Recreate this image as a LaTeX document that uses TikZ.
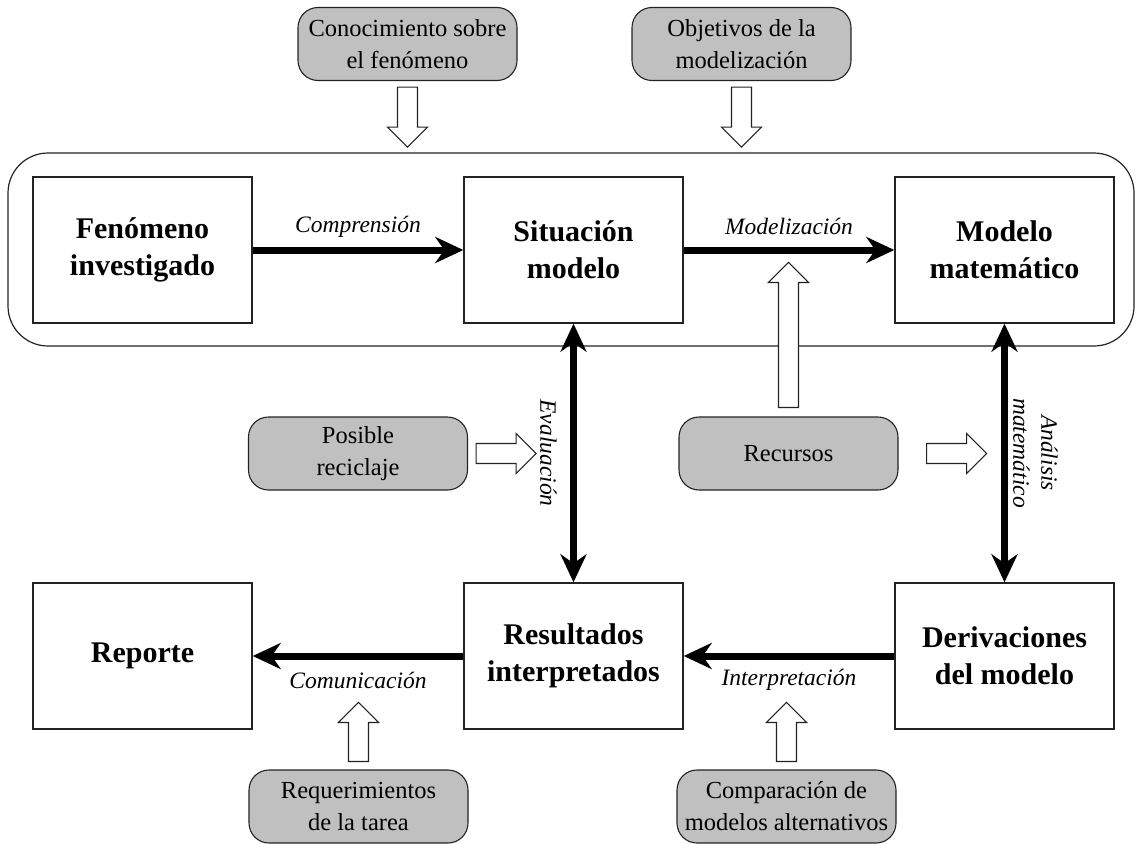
\documentclass[tikz,border=0pt]{standalone}
\usepackage{fontspec}
\setmainfont{Liberation Serif}
\usetikzlibrary{arrows.meta,calc}
\definecolor{boxgray}{RGB}{192,192,192}
\definecolor{edge}{RGB}{35,35,35}
\begin{document}
\begin{tikzpicture}[x=1pt,y=-1pt,
  stage/.style={draw=edge, line width=1.4pt, fill=white, minimum width=219pt, minimum height=146pt,
    inner sep=0pt, align=center, font=\fontsize{30}{37}\selectfont\bfseries},
  factor/.style={draw=edge, line width=1.1pt, fill=boxgray, rounded corners=20pt,
    minimum width=219pt, minimum height=73pt, inner sep=0pt, align=center,
    font=\fontsize{24.5}{32}\selectfont},
  tipshape/.style={Stealth[length=28pt,width=26pt,inset=9pt]},
  flow/.style={line width=7pt, -{Stealth[length=28pt,width=26pt,inset=9pt]}},
  bothflow/.style={line width=7pt, {Stealth[length=28pt,width=26pt,inset=9pt]}-{Stealth[length=28pt,width=26pt,inset=9pt]}},
  phase/.style={font=\fontsize{23.5}{28}\selectfont\itshape, inner sep=0pt, align=center},
  hollow/.style={draw=edge, line width=1.1pt, fill=white, line join=miter},
  pics/block/.style={code={
    \draw[hollow] (0,-10) -- ({#1-20},-10) -- ({#1-20},-20) -- (#1,0)
      -- ({#1-20},20) -- ({#1-20},10) -- (0,10) -- cycle;}},
]
\useasboundingbox (0,0) rectangle (1137,843);

% frame around the upper row
\draw[draw=edge, line width=1.2pt, rounded corners=40pt] (8,153) rectangle (1134,346);

% main stages
\node[stage] (fen) at (142.5,250) {Fenómeno\\investigado};
\node[stage] (sit) at (573.5,250) {Situación\\modelo};
\node[stage] (mod) at (1004.5,250) {Modelo\\matemático};
\node[stage] (rep) at (142.5,656) {Reporte};
\node[stage] (res) at (573.5,656) {Resultados\\interpretados};
\node[stage] (der) at (1004.5,656) {Derivaciones\\del modelo};

% influencing factors
\node[factor] (con) at (407.5,44) {Conocimiento sobre\\el fenómeno};
\node[factor] (obj) at (741.5,44) {Objetivos de la\\modelización};
\node[factor] (pos) at (358,453.5) {Posible\\reciclaje};
\node[factor] (rec) at (788.5,453.5) {Recursos};
\node[factor] (req) at (358.5,806.5) {Requerimientos\\de la tarea};
\node[factor] (cmp) at (786.5,806.5) {Comparación de\\modelos alternativos};

% process arrows
\draw[flow] (fen) -- node[phase, yshift=23pt] {Comprensión} (sit);
\draw[flow] (sit) -- node[phase, yshift=24pt] {Modelización} (mod);
\draw[flow] (res) -- node[phase, yshift=-24pt] {Comunicación} (rep);
\draw[flow] (der) -- node[phase, yshift=-24pt] {Interpretación} (res);
\draw[bothflow] (sit) -- (res);
\draw[bothflow] (mod) -- (der);
\node[phase, rotate=-90] (eva) at ($(sit.south)!0.5!(res.north)+(-25,0)$) {Evaluación};
\node[phase, rotate=-90] (ana) at ($(mod.south)!0.5!(der.north)+(31,0)$) {Análisis\\matemático};

% hollow influence arrows
\pic[rotate=-90] at ($(con.south)+(0,6)$) {block=60};
\pic[rotate=-90] at ($(obj.south)+(0,6)$) {block=60};
\pic[rotate=90] at ($(rec.north)+(0,-9)$) {block=145};
\pic at ($(pos.east)+(8,0)$) {block=60};
\pic at ($(rec.east)+(28,0)$) {block=60};
\pic[rotate=90] at ($(req.north)+(0,-8)$) {block=59};
\pic[rotate=90] at ($(cmp.north)+(0,-8)$) {block=59};
\end{tikzpicture}
\end{document}
